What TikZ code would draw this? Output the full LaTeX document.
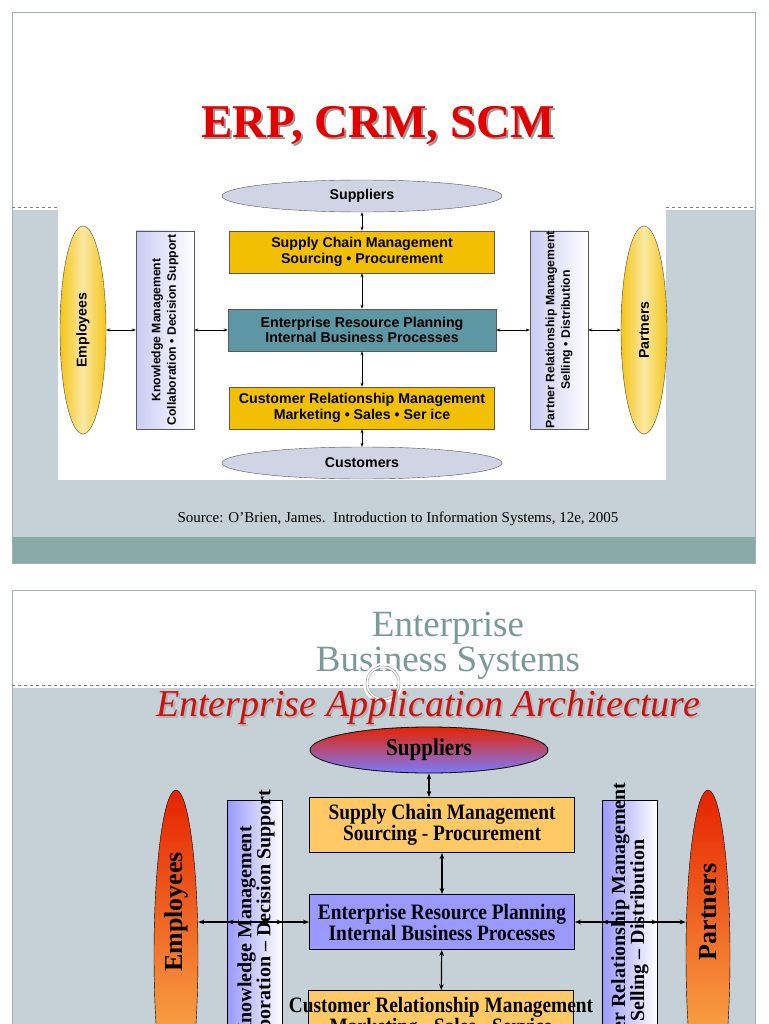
\documentclass[tikz,border=0pt]{standalone}
\usepackage{fontspec}
\setmainfont{Liberation Serif}
\newfontfamily\arial{Liberation Sans}
\newfontfamily\cond[FakeStretch=0.88]{Liberation Serif}
\usetikzlibrary{shapes.geometric,arrows.meta}
\definecolor{slgray}{HTML}{C5D1D6}
\definecolor{band}{HTML}{8AAAA8}
\definecolor{frame}{HTML}{9DB3B4}
\definecolor{gold}{HTML}{F2C000}
\definecolor{erpb}{HTML}{5D97A3}
\definecolor{ell}{HTML}{D0D4E4}
\definecolor{ygold}{HTML}{F5C518}
\definecolor{lgold}{HTML}{FFC965}
\definecolor{lblue}{HTML}{9999FF}
\definecolor{ttl}{HTML}{7A9A95}
\definecolor{redt}{HTML}{CC1111}
\begin{document}
\begin{tikzpicture}[x=1pt,y=-1pt,
 f1/.style={font=\arial\bfseries\fontsize{14.2}{15.5}\selectfont},
 box1/.style={f1,draw=gray!70!black,line width=0.6pt,minimum width=265pt,minimum height=42pt,align=center},
 ell1/.style={f1,ellipse,draw=gray!70!black,fill=ell},
 side1/.style={font=\arial\bfseries\fontsize{12.2}{15.5}\selectfont,draw=gray!70!black,top color=white,bottom color=ell!80!blue!60,shading angle=-90,minimum width=198pt,minimum height=58pt,inner xsep=0pt,rotate=90,align=center},
 yell1/.style={ellipse,draw=gray!60!black,left color=ygold,right color=ygold,middle color=ygold!40,minimum width=46pt,minimum height=208pt,inner sep=0pt},
 a1/.style={{Stealth[length=4pt]}-{Stealth[length=4pt]},line width=0.5pt},
 f2/.style={font=\cond\bfseries\fontsize{22}{21}\selectfont},
 box2/.style={f2,draw=black,line width=0.8pt,minimum width=265pt,minimum height=55pt,align=center},
 side2/.style={draw=black,line width=0.6pt,left color=lblue,right color=white,minimum width=300pt,minimum height=55pt,rotate=90},
 st2/.style={rotate=90,anchor=east,font=\bfseries\fontsize{20}{19}\selectfont,align=center},
 yell2/.style={ellipse,draw=black,top color=red!70!orange!90!black,bottom color=lgold!90!yellow,minimum width=44pt,minimum height=330pt,inner sep=0pt},
 a2/.style={{Stealth[length=6pt]}-{Stealth[length=6pt]},line width=1.2pt}]
\useasboundingbox (0,0) rectangle (768,1024);
\fill[white] (0,0) rectangle (768,1024);
% ---------- slide 1 ----------
\fill[slgray] (12,210) rectangle (755,537);
\fill[band] (12,537) rectangle (755,563);
\draw[frame] (12,12) rectangle (755,563);
\draw[gray,dashed,line width=0.3pt] (12,207) -- (755,207);
\fill[white] (58,185) rectangle (666,480);
\node[font=\bfseries\fontsize{47}{47}\selectfont,text=black!40] (t1s) at (380,128) {ERP, CRM, SCM};
\node[font=\bfseries\fontsize{47}{47}\selectfont,text=red!90!black] (t1) at (378,126) {ERP, CRM, SCM};
\node[ell1,minimum width=280pt,minimum height=32pt] (sup1) at (362,196) {Suppliers};
\node[box1,fill=gold] (scm1) at (362,252) {Supply Chain Management\\Sourcing \textbullet{} Procurement};
\node[box1,fill=erpb,minimum width=268pt] (erp1) at (362,330) {Enterprise Resource Planning\\Internal Business Processes};
\node[box1,fill=gold] (crm1) at (362,408) {Customer Relationship Management\\Marketing \textbullet{} Sales \textbullet{} Ser ice};
\node[ell1,minimum width=280pt,minimum height=32pt] (cus1) at (362,463) {Customers};
\node[side1] (km1) at (165,330) {Knowledge Management\\Collaboration \textbullet{} Decision Support};
\node[side1] (prm1) at (559,330) {Partner Relationship Management\\Selling \textbullet{} Distribution};
\node[yell1] (emp1) at (83,330) {};
\node[f1,rotate=90] (empt1) at (emp1) {Employees};
\node[yell1] (par1) at (644,330) {};
\node[f1,rotate=90] (part1) at (par1) {Partners};
\draw[a1] (sup1) -- (scm1);
\draw[a1] (scm1) -- (erp1);
\draw[a1] (erp1) -- (crm1);
\draw[a1] (crm1) -- (cus1);
\draw[a1] (emp1) -- (km1);
\draw[a1] (km1) -- (erp1);
\draw[a1] (erp1) -- (prm1);
\draw[a1] (prm1) -- (par1);
\node[font=\fontsize{15}{16}\selectfont] (src) at (398,519) {Source: O'Brien, James.\ \ Introduction to Information Systems, 12e, 2005};
% ---------- slide 2 ----------
\begin{scope}
\clip (0,0) rectangle (768,1024);
\fill[slgray] (12,688) rectangle (755,1030);
\draw[frame] (12,590) -- (755,590) -- (755,1030) (12,590) -- (12,1030);
\draw[gray,dashed,line width=0.3pt] (12,685) -- (755,685);
\node[text=ttl,font=\fontsize{37}{35}\selectfont,align=center] (t2) at (448,646) {Enterprise\\Business Systems};
\draw[white,line width=2pt] (383,683) circle (19);
\draw[gray!80,line width=0.5pt,double=white,double distance=1.5pt] (383,683) circle (16);
\node[text=black!30,font=\itshape\fontsize{38}{38}\selectfont] (t3s) at (430,709) {Enterprise Application Architecture};
\node[text=redt,font=\itshape\fontsize{38}{38}\selectfont] (t3) at (428,707) {Enterprise Application Architecture};
\node[ellipse,draw=black,line width=0.8pt,top color=red!70!orange!90!black,bottom color=lblue!80!blue,minimum width=238pt,minimum height=46pt,font=\cond\bfseries\fontsize{24}{24}\selectfont] (sup2) at (429,750) {Suppliers};
\node[box2,fill=lgold] (scm2) at (442,825) {Supply Chain Management\\Sourcing - Procurement};
\node[box2,fill=lblue] (erp2) at (442,922) {Enterprise Resource Planning\\Internal Business Processes};
\node[box2,fill=lgold] (crm2) at (441,1018) {};
\node[f2,align=center] (crmt2) at (crm2) {Customer Relationship Management\\Marketing - Sales - Service};
\node[side2] (km2) at (255,950) {};
\node[st2] (kmt2) at (256,786) {Knowledge Management\\Collaboration -- Decision Support};
\node[side2] (prm2) at (630,950) {};
\node[st2] (prmt2) at (630,779) {Partner Relationship Management\\Selling -- Distribution};
\node[yell2] (emp2) at (176,955) {};
\node[rotate=90,font=\bfseries\fontsize{26}{26}\selectfont] (empt2) at (176,912) {Employees};
\node[yell2] (par2) at (708,955) {};
\node[rotate=90,font=\bfseries\fontsize{26}{26}\selectfont] (part2) at (708,912) {Partners};
\draw[a2] (sup2) -- (scm2.north -| sup2);
\draw[a2] (scm2) -- (erp2);
\draw[a2] (erp2) -- (crm2);
\draw[a2] (emp2.east |- erp2) -- (km2.south |- erp2);
\draw[a2] (km2.north |- erp2) -- (erp2.west);
\draw[a2] (erp2.east) -- (prm2.south |- erp2);
\draw[a2] (prm2.north |- erp2) -- (par2.west |- erp2);
\end{scope}
\end{tikzpicture}
\end{document}
